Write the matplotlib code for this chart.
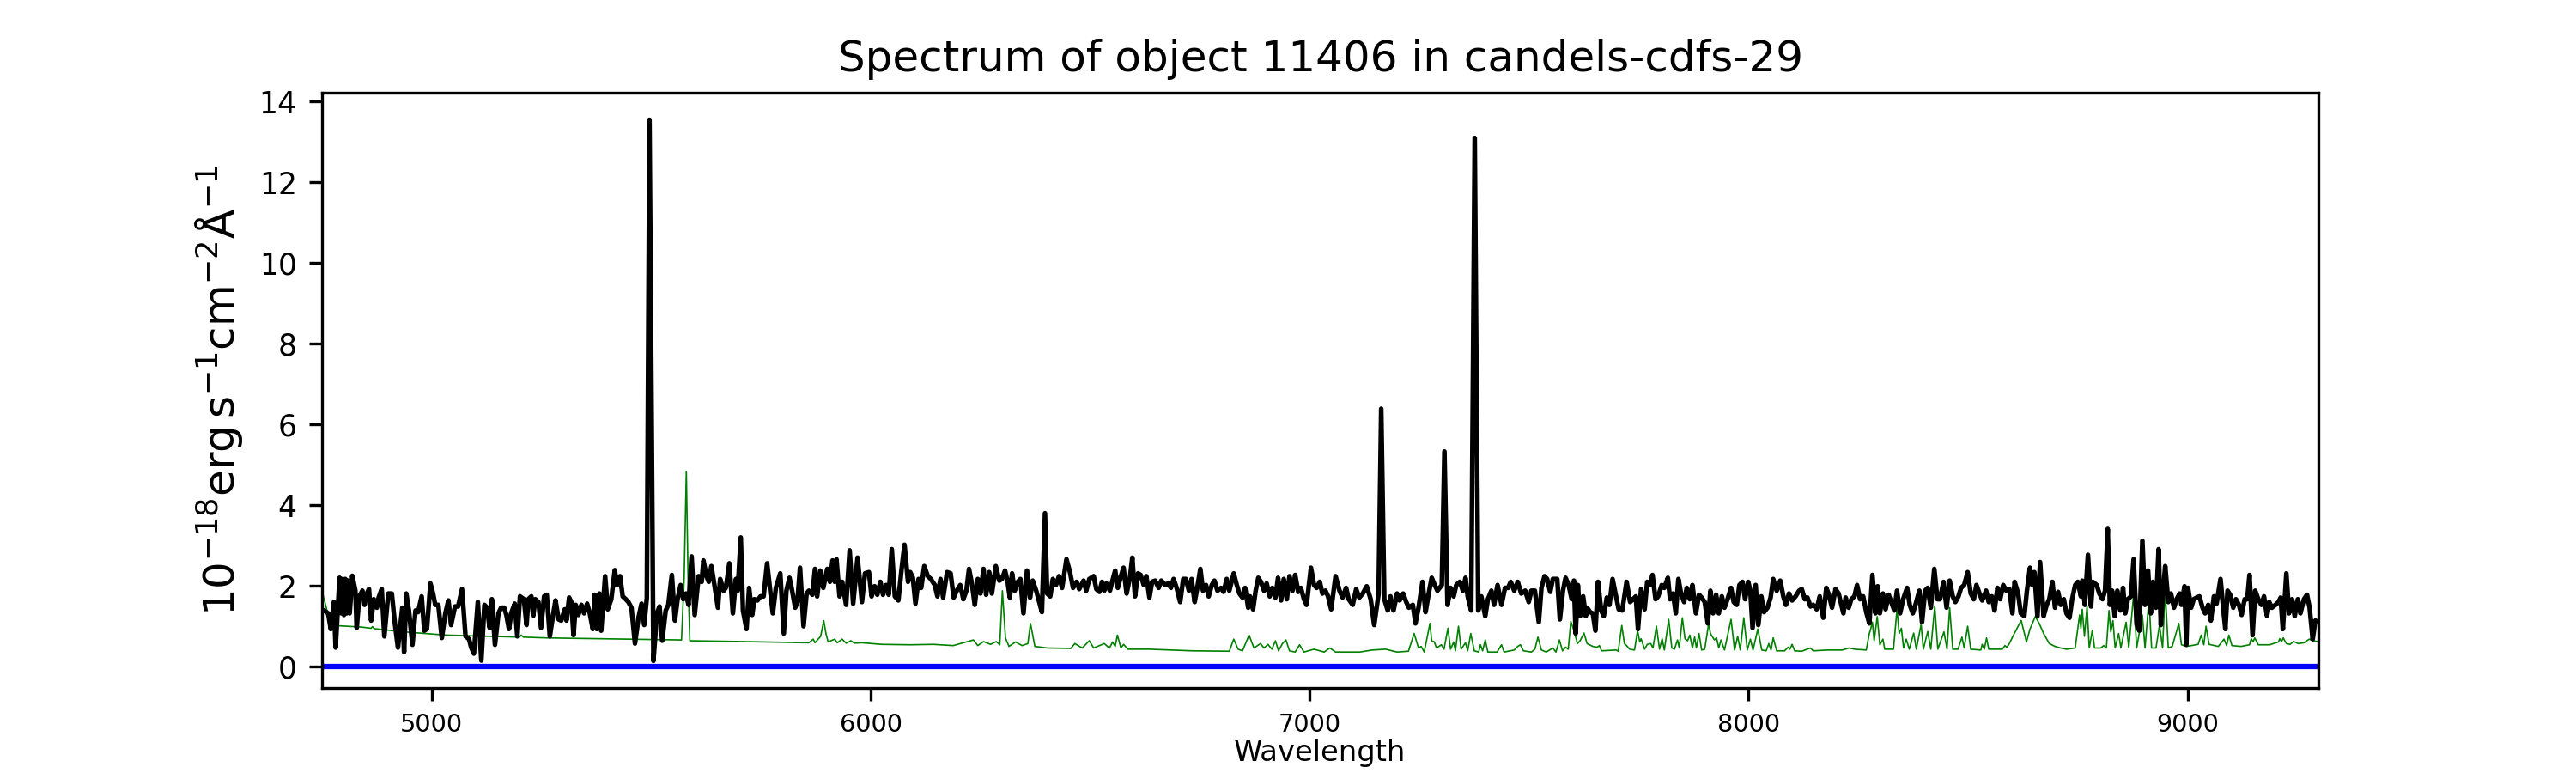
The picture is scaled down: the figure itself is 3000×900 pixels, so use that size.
import matplotlib
matplotlib.use("Agg")
import matplotlib.pyplot as plt
import numpy as np

title = "Spectrum of object 11406 in candels-cdfs-29"
xlabel = "Wavelength"
ylabel = r"$10^{-18}\mathrm{erg\,s^{-1}cm^{-2}\AA^{-1}}$"

# object spectrum (black)
wave_obj = [
    4751, 4755, 4764, 4770, 4777, 4781, 4790, 4794, 4797, 4800, 4803, 4806, 4809, 4813, 4819, 4826, 4829, 4835,
    4842, 4847, 4852, 4857, 4862, 4868, 4875, 4879, 4886, 4892, 4901, 4909, 4916, 4923, 4933, 4937, 4942, 4948,
    4956, 4963, 4969, 4977, 4983, 4989, 4997, 5003, 5008, 5015, 5023, 5031, 5038, 5044, 5053, 5060, 5069, 5077,
    5085, 5090, 5096, 5105, 5113, 5120, 5126, 5132, 5137, 5144, 5152, 5158, 5165, 5170, 5176, 5181, 5189, 5195,
    5201, 5210, 5216, 5220, 5227, 5231, 5236, 5243, 5249, 5256, 5262, 5269, 5277, 5282, 5289, 5295, 5303, 5307,
    5313,
    5318, 5323, 5328, 5334, 5341, 5347, 5354, 5360, 5367, 5371, 5376, 5382, 5386, 5395, 5401, 5409, 5417, 5422,
    5429, 5435, 5442, 5448, 5455, 5463, 5471, 5478, 5484, 5490, 5496, 5505, 5513, 5519, 5525, 5533, 5539, 5547,
    5554, 5560, 5567, 5573, 5579, 5585, 5592, 5599, 5608, 5615, 5619, 5626, 5631, 5637, 5644, 5652, 5657, 5665,
    5670, 5678, 5686, 5693, 5697, 5704, 5709, 5717, 5723, 5730, 5735, 5742, 5749, 5756, 5764, 5771, 5777, 5784,
    5794, 5802, 5808, 5815, 5821, 5828, 5833, 5839, 5847, 5854, 5859, 5867, 5873, 5878, 5885, 5892,
    5901, 5907, 5913, 5918, 5922, 5929, 5935, 5944, 5952, 5960, 5970, 5980, 5987, 5996, 6002, 6009, 6015, 6022,
    6028, 6035, 6041, 6048, 6055, 6063, 6070, 6077, 6085, 6090, 6096, 6102, 6109, 6115, 6122, 6130, 6137, 6146,
    6152, 6159, 6165, 6174, 6182, 6189, 6196, 6204, 6211, 6218, 6224, 6231, 6237, 6244, 6250, 6257, 6263, 6270,
    6276, 6285, 6293, 6299, 6306, 6312, 6317, 6322, 6328, 6335, 6341, 6348, 6356, 6363, 6369, 6377, 6384, 6390,
    6397, 6402, 6409, 6415, 6422, 6429, 6436, 6446, 6454, 6461, 6469, 6475,
    6485, 6491, 6498, 6508, 6514, 6521, 6527, 6532, 6537, 6545, 6550, 6557, 6563, 6570, 6576, 6583, 6591, 6596,
    6602, 6609, 6615, 6622, 6628, 6635, 6641, 6648, 6656, 6662, 6671, 6677, 6684, 6690, 6697, 6705, 6712, 6718,
    6725, 6731, 6738, 6744, 6751, 6757, 6764, 6770, 6777, 6783, 6790, 6798, 6804, 6811, 6817, 6827, 6834, 6840,
    6847, 6853, 6860, 6864, 6871, 6877, 6883, 6889, 6896, 6902, 6909, 6915, 6922, 6928, 6935, 6941, 6948, 6954,
    6961, 6967, 6974, 6980, 6987, 6993, 7003, 7010, 7016, 7023, 7029, 7036, 7042, 7049,
    7059, 7068, 7075, 7083, 7089, 7098, 7106, 7113, 7121, 7130, 7139, 7147, 7157, 7163, 7170, 7178, 7184, 7191,
    7199, 7205, 7213, 7220, 7226, 7235, 7241, 7248, 7257, 7264, 7270, 7278, 7285, 7291, 7301, 7307, 7314, 7321,
    7328, 7334, 7342, 7349, 7355, 7360, 7368, 7376, 7384, 7391, 7400, 7406, 7414, 7420, 7428, 7437, 7445, 7452,
    7458, 7466, 7474, 7482, 7491, 7499, 7505, 7513, 7522, 7528, 7535, 7541, 7548, 7554, 7564, 7570, 7577, 7583,
    7590, 7597, 7602, 7606, 7611, 7616, 7623, 7629,
    7632, 7639, 7645, 7651, 7657, 7664, 7670, 7677, 7683, 7690, 7698, 7704, 7712, 7722, 7730, 7737, 7743, 7748,
    7755, 7763, 7769, 7775, 7781, 7788, 7794, 7802, 7808, 7816, 7821, 7828, 7834, 7840, 7846, 7853, 7859, 7866,
    7872, 7880, 7887, 7893, 7900, 7907, 7913, 7919, 7926, 7932, 7939, 7945, 7952, 7960, 7966, 7973, 7979, 7986,
    7992, 7999, 8004, 8009, 8016, 8022, 8029, 8035, 8043, 8050, 8056, 8064, 8072, 8079, 8085, 8092, 8099, 8107,
    8115, 8121, 8128, 8134, 8141, 8147, 8155, 8162, 8170, 8177, 8183, 8190, 8198, 8205,
    8216, 8221, 8228, 8234, 8241, 8247, 8254, 8261, 8268, 8275, 8282, 8289, 8294, 8299, 8306, 8312, 8319, 8325,
    8332, 8338, 8345, 8352, 8361, 8367, 8374, 8380, 8389, 8395, 8402, 8408, 8415, 8423, 8430, 8436, 8444, 8451,
    8458, 8465, 8471, 8478, 8484, 8491, 8499, 8506, 8513, 8519, 8526, 8532, 8541, 8547, 8554, 8560, 8567, 8573,
    8580, 8587, 8594, 8601, 8606, 8614, 8620, 8628, 8634, 8641, 8646, 8651, 8658, 8664, 8672, 8679, 8685, 8692,
    8698, 8705, 8711, 8718, 8724, 8731, 8737, 8744, 8750,
    8757, 8760, 8766, 8773, 8780, 8784, 8793, 8799, 8806, 8812, 8818, 8823, 8828, 8834, 8840, 8847, 8853, 8858,
    8864, 8871, 8877, 8884, 8890, 8897, 8903, 8910, 8916, 8921, 8928, 8934, 8939, 8945, 8949, 8956, 8962, 8969,
    8975, 8982, 8986, 8993, 8997, 9001, 9008, 9014, 9021, 9027, 9034, 9040, 9047, 9053, 9060, 9066, 9075, 9081,
    9086, 9091, 9097, 9104, 9110, 9117, 9123, 9130, 9136, 9141, 9148, 9154, 9161, 9168, 9174, 9181, 9186, 9192,
    9200, 9207, 9212, 9217, 9225, 9231, 9238, 9244, 9251, 9257, 9265, 9272, 9278, 9285, 9291, 9298,
]
flux_obj = [
    1.40, 1.39, 1.32, 0.93, 1.60, 0.47, 2.20, 1.32, 2.17, 1.28, 2.17, 1.32, 2.13, 1.32, 2.25, 1.88, 0.96, 1.74,
    1.88, 1.53, 1.81, 1.92, 1.14, 1.67, 1.46, 1.71, 1.92, 0.75, 1.81, 1.81, 1.07, 0.47, 1.46, 0.36, 1.81, 1.39,
    0.54, 1.39, 1.35, 1.74, 0.89, 0.93, 2.06, 1.81, 1.53, 1.53, 0.71, 1.32, 1.64, 1.03, 1.49, 1.49, 1.92, 0.75,
    0.68, 0.47, 0.32, 1.60, 0.15, 1.53, 1.46, 0.96, 1.67, 0.54, 1.32, 1.46, 1.46, 1.28, 0.93, 1.32, 1.56, 0.75,
    1.74, 1.67, 1.03, 1.67, 1.74, 1.25, 1.67, 1.60, 0.96, 1.74, 1.78, 0.75, 1.32, 1.64, 1.17, 1.14, 1.42, 1.14,
    1.71,
    1.60, 0.78, 1.53, 1.28, 1.53, 1.32, 1.56, 1.32, 0.93, 1.78, 0.93, 1.81, 0.89, 2.24, 1.42, 1.67, 2.39, 2.02,
    2.24, 1.74, 1.67, 1.60, 1.46, 0.57, 1.21, 1.56, 1.03, 1.70, 13.55, 0.14, 1.32, 1.49, 0.64, 1.39, 1.53, 2.27,
    1.14, 1.67, 2.02, 1.67, 1.81, 1.53, 2.73, 1.28, 2.24, 2.10, 2.63, 2.24, 2.10, 2.49, 2.02, 1.46, 2.17, 1.88,
    1.95, 2.56, 1.32, 2.17, 1.88, 3.20, 1.39, 0.93, 1.95, 1.28, 1.67, 1.64, 1.74, 1.74, 2.56, 1.88, 1.32, 1.95,
    2.31, 0.82, 1.88, 2.20, 1.88, 1.46, 1.60, 2.45, 1.00, 1.81, 1.88, 1.78, 2.42, 1.74, 2.38, 1.95,
    2.42, 2.10, 2.63, 2.10, 2.66, 1.74, 2.10, 1.53, 2.88, 1.56, 2.70, 1.60, 2.31, 2.34, 1.74, 1.99, 1.78, 2.10,
    1.78, 2.02, 1.78, 2.91, 1.74, 1.64, 2.38, 3.02, 2.10, 2.34, 2.20, 1.56, 2.17, 1.95, 2.49, 2.24, 2.17, 2.02,
    1.74, 2.17, 1.71, 2.34, 2.31, 1.71, 1.88, 2.02, 1.67, 1.88, 2.42, 2.02, 1.53, 2.17, 1.81, 2.42, 1.78, 2.34,
    1.81, 2.49, 2.13, 2.17, 2.38, 2.10, 1.71, 2.31, 1.88, 2.10, 2.17, 1.32, 2.38, 1.71, 2.13, 1.88, 1.60, 1.35,
    3.80, 1.81, 1.74, 2.17, 2.02, 2.24, 1.95, 2.66, 2.34, 1.95, 2.10, 1.92,
    2.13, 1.88, 2.17, 2.24, 1.92, 1.85, 2.10, 1.88, 2.06, 1.88, 2.10, 2.38, 1.95, 2.24, 2.45, 1.81, 2.24, 2.70,
    1.74, 2.31, 2.27, 2.02, 2.24, 1.71, 2.10, 2.13, 1.95, 2.13, 2.02, 2.06, 1.95, 2.17, 1.95, 1.60, 2.17, 2.17,
    1.88, 2.17, 1.60, 1.95, 2.42, 1.88, 2.02, 1.74, 2.02, 2.13, 1.88, 1.95, 1.85, 2.17, 1.88, 2.31, 2.02, 1.81,
    1.71, 1.95, 1.46, 1.74, 1.42, 1.88, 2.20, 2.10, 1.88, 2.06, 1.74, 1.95, 1.71, 2.20, 1.64, 2.17, 1.67, 2.24,
    1.88, 2.27, 1.85, 1.95, 1.67, 1.53, 2.45, 2.02, 1.95, 2.10, 1.81, 1.88, 1.74, 1.42,
    2.24, 1.88, 1.71, 1.95, 1.67, 1.53, 1.92, 1.71, 1.81, 1.99, 1.67, 1.03, 1.80, 6.39, 1.67, 1.39, 1.74, 1.39,
    1.81, 1.64, 1.81, 1.60, 1.46, 1.53, 1.07, 1.46, 2.10, 1.35, 1.74, 2.20, 2.02, 1.88, 2.02, 5.33, 1.53, 1.95,
    1.74, 2.02, 2.10, 1.88, 2.20, 1.74, 1.39, 13.10, 1.39, 1.74, 1.25, 1.67, 1.88, 1.53, 2.02, 1.53, 1.95, 1.95,
    2.10, 1.88, 2.10, 1.81, 1.88, 1.60, 1.88, 1.88, 1.10, 1.95, 2.24, 2.17, 1.85, 2.17, 2.17, 1.17, 1.88, 2.20,
    2.02, 1.67, 2.13, 0.82, 2.02, 1.25, 1.74, 1.25,
    1.46, 1.35, 1.32, 0.89, 2.10, 1.39, 1.25, 1.71, 1.53, 2.17, 1.74, 1.42, 1.39, 2.10, 1.60, 1.67, 1.74, 0.93,
    1.92, 1.42, 2.10, 2.02, 2.27, 1.67, 1.74, 2.02, 1.95, 2.20, 1.67, 1.81, 1.32, 2.17, 1.81, 1.60, 1.95, 1.67,
    2.02, 1.32, 1.78, 1.71, 1.60, 1.07, 1.88, 1.32, 1.78, 1.32, 1.74, 1.46, 1.67, 1.95, 1.60, 1.53, 2.02, 2.10,
    1.67, 2.10, 1.88, 0.96, 2.02, 1.03, 1.74, 1.35, 1.46, 1.71, 2.17, 1.88, 2.13, 1.74, 1.53, 1.81, 1.64, 1.74,
    1.88, 1.92, 1.67, 1.71, 1.49, 1.53, 1.42, 1.74, 1.21, 1.95, 1.78, 1.46, 1.92, 1.81,
    1.32, 1.71, 1.46, 1.67, 1.74, 2.02, 1.67, 1.74, 1.35, 1.07, 2.27, 1.32, 1.99, 1.32, 1.81, 1.42, 1.78, 1.60,
    1.39, 1.88, 1.32, 1.67, 1.95, 1.53, 1.32, 1.53, 1.88, 1.10, 1.88, 1.95, 1.46, 2.42, 1.67, 1.67, 2.10, 1.46,
    2.13, 1.74, 1.60, 1.74, 1.95, 2.02, 2.34, 1.81, 1.67, 2.02, 1.81, 1.64, 1.88, 1.60, 1.74, 1.39, 1.95, 1.67,
    2.02, 1.88, 1.92, 1.32, 2.10, 1.81, 1.32, 1.25, 1.88, 2.45, 2.02, 2.34, 1.25, 2.59, 1.25, 1.53, 1.67, 2.10,
    1.46, 1.85, 1.53, 1.67, 1.32, 1.21, 1.67, 2.02, 2.10,
    1.74, 2.13, 1.53, 2.77, 1.49, 2.10, 2.02, 1.81, 1.67, 1.88, 3.41, 1.53, 1.88, 1.25, 1.88, 1.39, 1.95, 1.32,
    1.67, 1.74, 2.66, 1.03, 0.89, 3.12, 1.53, 2.38, 1.32, 2.10, 1.46, 2.91, 1.03, 1.95, 2.49, 1.60, 1.81, 1.46,
    1.67, 1.81, 1.53, 1.99, 0.54, 1.95, 1.46, 1.67, 1.71, 1.74, 1.46, 1.32, 1.53, 1.14, 1.74, 1.56, 2.17, 1.46,
    0.93, 1.88, 1.78, 1.46, 1.67, 1.53, 1.28, 1.67, 1.67, 2.27, 0.78, 1.88, 1.67, 1.53, 1.74, 1.25, 1.60, 1.46,
    1.53, 1.60, 1.71, 0.93, 2.31, 1.32, 1.67, 1.25, 1.67, 1.32, 1.67, 1.78, 1.46, 0.68, 1.14, 1.10,
]

# sky / noise spectrum (green)
wave_sky = [
    4751, 4760, 4770, 4790, 4839, 4862, 4865, 4869, 4937, 5034, 5132, 5200, 5204, 5209, 5262, 5326, 5448, 5569,
    5575, 5580, 5584, 5588, 5709, 5859, 5869, 5873, 5886, 5893, 5898, 5903, 5918, 5924, 5935, 5944, 5955, 5963,
    5980, 6025, 6090, 6143, 6188, 6234, 6244, 6257, 6273, 6286, 6294, 6300, 6307, 6315, 6330, 6345, 6358, 6364,
    6374, 6403, 6456, 6465, 6482, 6498, 6508, 6532, 6544, 6551, 6557, 6562, 6570, 6576, 6586, 6635, 6733, 6817,
    6827, 6837, 6847, 6862, 6873, 6888, 6896, 6905, 6914, 6922, 6929, 6938, 6946, 6954, 6967, 6977, 6987, 7010,
    7033, 7046, 7059, 7114, 7143, 7173, 7199, 7225, 7238, 7248, 7254, 7261, 7274, 7278, 7284, 7289, 7300, 7306,
    7315, 7321, 7328, 7332, 7339, 7345, 7355, 7360, 7367, 7375, 7385, 7389, 7394, 7400, 7406, 7427, 7437, 7443,
    7466, 7474, 7480, 7487, 7505, 7513, 7520, 7528, 7539, 7554, 7561, 7569, 7576, 7583, 7589, 7595, 7602, 7610,
    7616, 7625, 7632, 7645, 7655, 7660, 7665, 7698, 7703, 7711, 7717, 7722, 7729, 7740, 7747, 7752, 7755, 7763,
    7769, 7777, 7782, 7790, 7797, 7803, 7808, 7818, 7825, 7831, 7838, 7842, 7849, 7855, 7861, 7866, 7872, 7877,
    7881, 7887, 7893, 7900, 7909, 7913, 7918, 7922, 7927, 7932, 7937, 7945, 7960, 7968, 7975, 7981, 7989, 7997,
    8004, 8010, 8021, 8030, 8040, 8046, 8051, 8056, 8064, 8082, 8090, 8094, 8099, 8105, 8121, 8141, 8147, 8180,
    8213, 8229, 8242, 8268, 8275, 8278, 8282, 8286, 8293, 8299, 8306, 8310, 8330, 8338, 8343, 8348, 8353, 8359,
    8366, 8376, 8382, 8393, 8398, 8408, 8415, 8424, 8431, 8445, 8452, 8458, 8465, 8477, 8486, 8491, 8499, 8506,
    8529, 8532, 8537, 8542, 8547, 8578, 8584, 8588, 8593, 8602, 8614, 8621, 8633, 8641, 8653, 8662, 8672, 8685,
    8698, 8711, 8724, 8744, 8754, 8757, 8760, 8765, 8771, 8776, 8783, 8788, 8802, 8809, 8815, 8821, 8825, 8830,
    8835, 8843, 8848, 8860, 8866, 8877, 8884, 8897, 8903, 8912, 8918, 8928, 8936, 8943, 8949, 8956, 8965, 8980,
    8986, 8998, 9024, 9031, 9037, 9042, 9049, 9070, 9083, 9089, 9094, 9101, 9122, 9141, 9145, 9149, 9153, 9161,
    9187, 9207, 9210, 9214, 9218, 9225, 9233, 9242, 9252, 9265, 9277, 9285, 9298,
]
flux_sky = [
    1.83, 1.45, 0.97, 1.01, 0.98, 0.95, 0.99, 0.94, 0.86, 0.78, 0.75, 0.73, 0.78, 0.73, 0.71, 0.70, 0.68, 0.66,
    2.17, 4.84, 2.17, 0.64, 0.62, 0.59, 0.68, 0.59, 0.75, 1.14, 0.82, 0.61, 0.68, 0.59, 0.68, 0.58, 0.64, 0.58,
    0.59, 0.55, 0.54, 0.55, 0.52, 0.66, 0.52, 0.62, 0.55, 0.62, 0.54, 1.88, 0.71, 0.50, 0.61, 0.52, 0.57, 1.07,
    0.50, 0.46, 0.45, 0.57, 0.46, 0.64, 0.46, 0.57, 0.46, 0.61, 0.50, 0.78, 0.46, 0.55, 0.43, 0.43, 0.39, 0.38,
    0.68, 0.43, 0.39, 0.78, 0.46, 0.57, 0.46, 0.55, 0.43, 0.64, 0.39, 0.57, 0.66, 0.39, 0.36, 0.54, 0.36, 0.43,
    0.36, 0.46, 0.36, 0.36, 0.41, 0.43, 0.36, 0.38, 0.82, 0.46, 0.50, 0.36, 1.07, 0.64, 0.61, 0.46, 0.54, 0.43,
    0.95, 0.43, 0.61, 0.39, 1.00, 0.43, 0.59, 0.39, 0.82, 0.39, 0.36, 0.54, 0.39, 0.66, 0.36, 0.36, 0.54, 0.36,
    0.41, 0.50, 0.54, 0.39, 0.36, 0.43, 0.73, 0.41, 0.36, 0.46, 0.36, 0.66, 0.39, 0.48, 0.43, 1.12, 0.89, 0.57,
    0.64, 0.83, 0.57, 0.50, 0.48, 0.52, 0.39, 0.41, 0.38, 1.02, 0.57, 0.52, 0.43, 0.41, 0.89, 0.61, 0.69, 0.43,
    0.55, 0.57, 0.46, 1.00, 0.43, 0.69, 0.41, 1.17, 0.46, 0.43, 0.66, 0.46, 1.21, 0.69, 0.64, 0.78, 0.46, 0.73,
    0.46, 0.82, 0.41, 0.43, 1.07, 0.82, 0.73, 0.66, 0.71, 0.46, 0.66, 0.41, 1.17, 0.41, 0.75, 0.41, 1.21, 0.41,
    0.68, 0.41, 0.93, 0.41, 0.39, 0.57, 0.41, 0.71, 0.39, 0.39, 0.48, 0.43, 0.55, 0.39, 0.38, 0.46, 0.39, 0.41,
    0.41, 0.46, 0.43, 0.41, 0.82, 0.93, 1.10, 0.64, 1.24, 0.54, 0.68, 0.43, 0.43, 1.42, 0.82, 0.95, 0.46, 0.68,
    0.43, 0.83, 0.43, 1.05, 0.43, 0.87, 0.43, 1.49, 0.43, 0.86, 0.43, 1.46, 0.43, 0.43, 0.73, 0.46, 1.00, 0.43,
    0.41, 0.55, 0.43, 0.71, 0.43, 0.43, 0.52, 0.48, 0.55, 0.75, 1.00, 1.14, 0.61, 0.93, 1.24, 1.07, 0.82, 0.57,
    0.50, 0.46, 0.43, 0.46, 1.28, 0.95, 1.42, 0.75, 1.49, 0.46, 0.90, 0.46, 0.46, 0.52, 0.46, 1.39, 0.86, 1.14,
    0.46, 0.82, 0.46, 1.10, 0.46, 1.78, 0.46, 1.28, 0.46, 1.67, 0.46, 0.46, 1.03, 0.46, 1.88, 0.46, 0.50, 1.07,
    0.54, 0.50, 0.55, 0.78, 0.54, 1.00, 0.55, 0.50, 0.68, 0.52, 0.78, 0.52, 0.50, 0.54, 0.69, 0.61, 0.71, 0.54,
    0.54, 0.61, 0.69, 0.62, 0.71, 0.57, 0.55, 0.62, 0.57, 0.59, 0.68, 0.64, 0.62,
]

xlim = (4750, 9298)
ylim = (-0.53, 14.22)
yticks = [0, 2, 4, 6, 8, 10, 12, 14]
xticks = [5000, 6000, 7000, 8000, 9000]

fig, ax = plt.subplots(figsize=(10, 3), dpi=300)
ax.plot(wave_sky, flux_sky, color="green", lw=0.4)
ax.plot(wave_obj, flux_obj, color="black", lw=1.3)
ax.axhline(0, color="blue", lw=1.5)

ax.set_xlim(*xlim)
ax.set_ylim(*ylim)
ax.set_yticks(yticks)
ax.set_xticks(xticks)
ax.tick_params(axis="y", labelsize=8.3)
ax.tick_params(axis="x", labelsize=6.9)
ax.set_title(title, fontsize=12)
ax.set_xlabel(xlabel, fontsize=8.1, labelpad=0.5)
ax.set_ylabel(ylabel, fontsize=12)

fig.savefig("out.png", dpi=300)
